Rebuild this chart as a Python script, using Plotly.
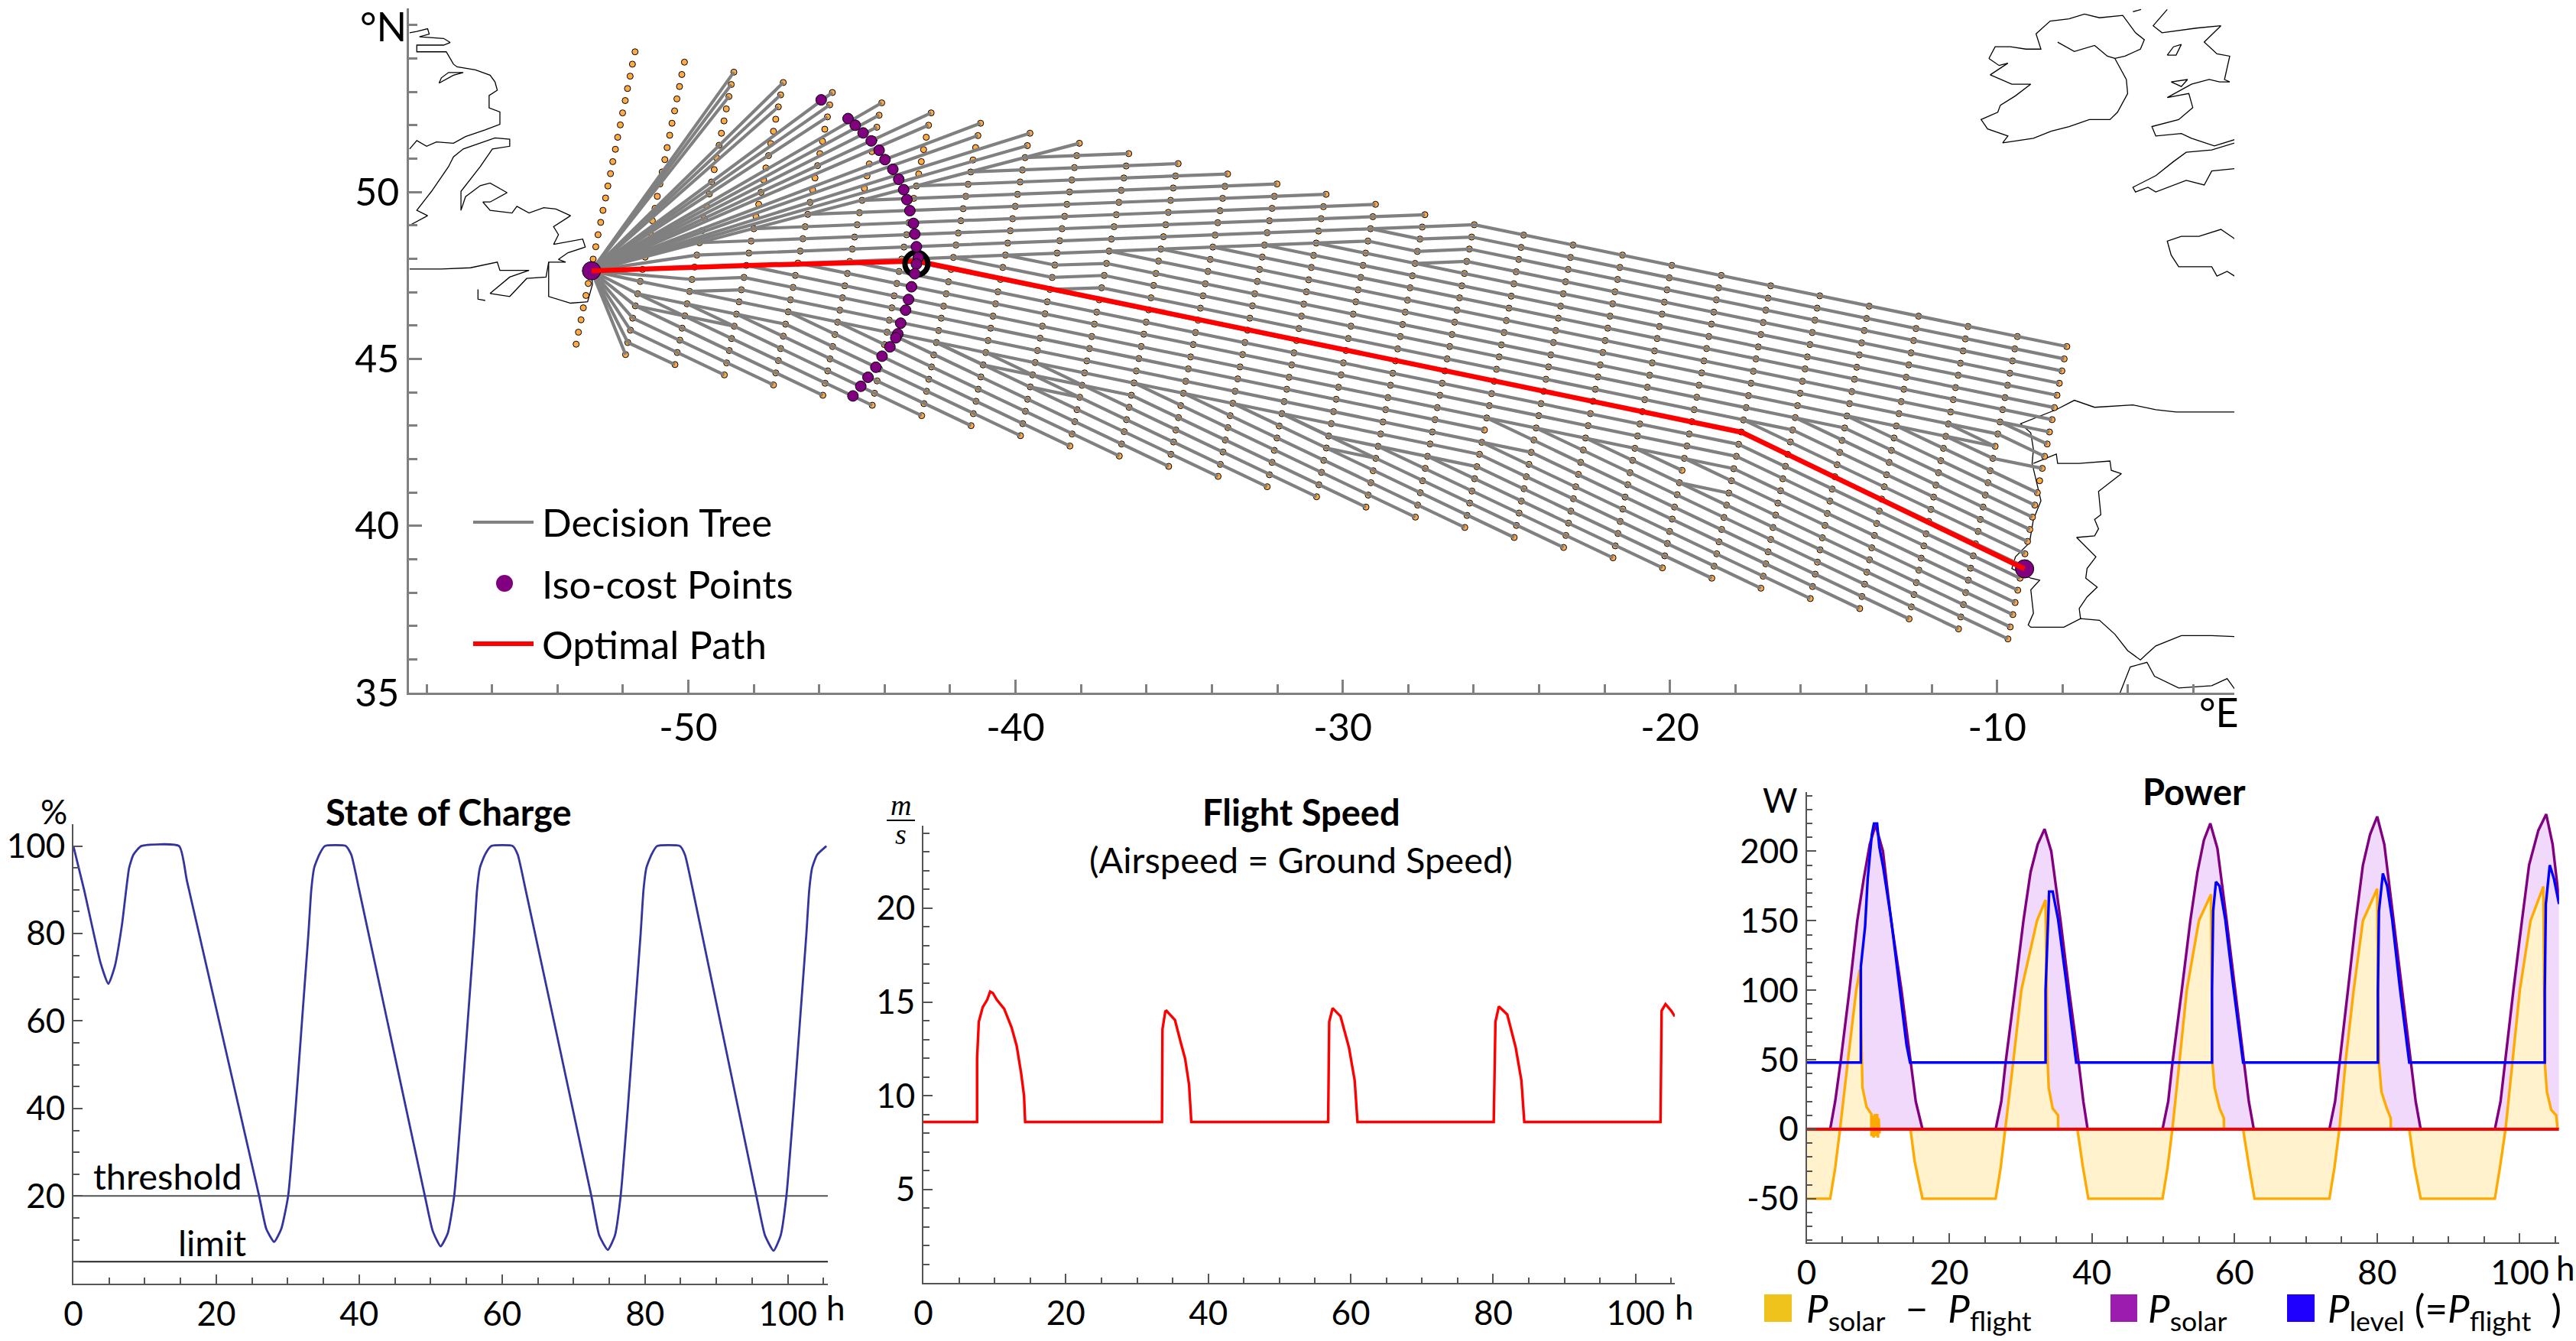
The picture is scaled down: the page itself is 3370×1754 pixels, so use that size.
import plotly.graph_objects as go

W, H = 3370, 1754

# ---- route map data (degrees) ----
origin_lon, origin_lat = -52.96, 47.64
dest_lon, dest_lat = -9.16, 38.71
ring_lon, ring_lat = -43.03, 47.85

# decision stages 1..30: position of the top node of each stage
stage_lon = [-51.63, -50.12, -48.61, -47.10, -45.60, -44.09, -42.58, -41.07, -39.56, -38.05,
             -36.54, -35.03, -33.52, -32.01, -30.51, -29.00, -27.49, -25.98, -24.47, -22.96,
             -21.45, -19.94, -18.43, -16.92, -15.42, -13.91, -12.40, -10.89, -9.38, -7.87]
stage_lat = [54.20, 53.89, 53.59, 53.28, 52.98, 52.67, 52.37, 52.06, 51.76, 51.46,
             51.15, 50.85, 50.54, 50.24, 49.93, 49.63, 49.32, 49.02, 48.71, 48.41,
             48.11, 47.80, 47.50, 47.19, 46.89, 46.58, 46.28, 45.97, 45.67, 45.37]
# offset of heading rows 0..24 from the top node
row_dlon = [0, -0.08, -0.15, -0.23, -0.30, -0.38, -0.45, -0.53, -0.60, -0.68, -0.75, -0.83, -0.90,
            -0.98, -1.05, -1.13, -1.20, -1.28, -1.35, -1.43, -1.50, -1.58, -1.65, -1.73, -1.80]
row_dlat = [0, -0.37, -0.73, -1.10, -1.46, -1.83, -2.19, -2.56, -2.92, -3.29, -3.65, -4.02, -4.38,
            -4.75, -5.11, -5.48, -5.84, -6.21, -6.57, -6.94, -7.30, -7.67, -8.03, -8.40, -8.76]

# (stage, row) where each ray from the start point ends
ray_ends = [(3, 0), (3, 1), (3, 2), (4, 0), (4, 1), (4, 2), (5, 0), (5, 1), (5, 2),
            (6, 0), (6, 1), (6, 2), (7, 0), (7, 1), (8, 0), (8, 1), (9, 0), (9, 1), (10, 0),
            (3, 15), (4, 15), (3, 17), (2, 18), (2, 19), (2, 20), (2, 21), (2, 22), (2, 23), (2, 24)]
# the other tree branches as (stage, row) corners
branches = [
    # rising part of the fan
    [(3, 14), (17, 0)], [(4, 12), (16, 0)], [(5, 10), (15, 0)], [(6, 8), (14, 0)],
    [(7, 6), (13, 0)], [(8, 4), (12, 0)], [(9, 2), (11, 0)],
    [(3, 15), (16, 2), (18, 0), (30, 0)], [(16, 2), (17, 2), (18, 1), (30, 1)],
    [(4, 15), (16, 3), (17, 3), (18, 2), (30, 2)], [(17, 4), (18, 3), (30, 3)],
    # level rows
    [(15, 4), (30, 4)], [(14, 5), (30, 5)], [(13, 6), (30, 6)], [(12, 7), (30, 7)], [(11, 8), (29, 8)],
    [(9, 10), (10, 10), (11, 9), (29, 9)], [(8, 11), (10, 11), (11, 10), (26, 10)],
    [(7, 12), (10, 12), (11, 11), (25, 11)], [(7, 12), (24, 12)],
    [(6, 13), (24, 13)], [(5, 14), (24, 14)], [(4, 15), (24, 15)],
    [(3, 17), (4, 16), (19, 16)], [(2, 18), (3, 18), (4, 17), (20, 17)], [(3, 18), (19, 18)],
    [(2, 19), (3, 19), (5, 19)], [(2, 20), (3, 20), (4, 20)], [(8, 18), (9, 19), (12, 19)],
    [(10, 20), (11, 20)], [(15, 18), (16, 19), (19, 19)], [(16, 20), (17, 20)],
    # descending part, ends on the bottom row or the last stage
    [(2, 20), (6, 24)], [(2, 21), (5, 24)], [(2, 22), (4, 24)], [(2, 23), (3, 24)], [(2, 19), (7, 24)],
    [(3, 19), (8, 24)], [(4, 19), (9, 24)], [(5, 19), (10, 24)], [(5, 18), (11, 24)], [(6, 18), (12, 24)],
    [(7, 18), (13, 24)], [(8, 18), (14, 24)], [(9, 18), (15, 24)], [(10, 18), (16, 24)], [(12, 19), (17, 24)],
    [(12, 18), (18, 24)], [(13, 18), (19, 24)], [(14, 18), (20, 24)], [(15, 18), (21, 24)], [(17, 19), (22, 24)],
    [(18, 19), (23, 24)], [(19, 19), (24, 24)], [(19, 18), (25, 24)], [(19, 17), (26, 24)], [(20, 17), (27, 24)],
    [(19, 15), (28, 24)], [(20, 15), (29, 24)], [(21, 15), (30, 24)], [(22, 15), (23, 16)],
    [(23, 17), (24, 17), (30, 23)], [(23, 15), (30, 22)], [(24, 15), (30, 21)], [(24, 14), (30, 20)],
    [(24, 13), (30, 19)], [(24, 12), (30, 18)], [(24, 11), (30, 17)], [(25, 11), (30, 16)], [(25, 10), (30, 15)],
    [(26, 10), (30, 14)], [(26, 9), (30, 13)], [(27, 9), (30, 12)], [(28, 9), (29, 10), (30, 10)],
    [(28, 8), (29, 9)], [(29, 8), (30, 9)], [(29, 7), (30, 8)],
]

optimal_lon = [-52.96, -48.22, -43.0, -17.8, -9.16]
optimal_lat = [47.64, 47.80, 47.93, 42.80, 38.71]

iso_lon = [-45.94, -45.12, -44.90, -44.66, -44.41, -44.17, -43.99, -43.75, -43.57, -43.42, -43.32, -43.23, -43.12,
           -43.08, -43.03, -42.97, -43.03, -43.08, -43.18, -43.27, -43.36, -43.51, -43.60, -43.66, -43.84, -44.08,
           -44.27, -44.51, -44.73, -44.97]
iso_lat = [52.76, 52.20, 52.00, 51.77, 51.53, 51.25, 50.97, 50.68, 50.38, 50.07, 49.77, 49.44, 49.06,
           48.74, 48.36, 48.04, 47.84, 47.55, 47.16, 46.78, 46.46, 46.07, 45.75, 45.63, 45.36, 45.08,
           44.75, 44.45, 44.18, 43.89]

# coastlines, each piece is a flat lon, lat list
coasts = [
    [-58.52, 54.77, -58.30, 54.81, -57.97, 54.89, -57.92, 54.73, -58.22, 54.65, -57.48, 54.60, -57.28, 54.48,
     -57.48, 54.40, -58.30, 54.40, -58.30, 54.20, -57.40, 54.20, -57.18, 53.83, -57.07, 53.75, -56.51, 53.66,
     -56.06, 53.50, -55.91, 53.30, -55.84, 53.05, -56.09, 52.89, -56.09, 52.52, -55.76, 52.40, -55.76, 52.03,
     -56.21, 51.86, -56.81, 51.66, -57.18, 51.46, -57.70, 51.50, -58.00, 51.37, -58.30, 51.54, -58.52, 51.29],
    [-57.62, 53.26, -57.18, 53.50, -56.88, 53.58, -57.33, 53.58, -57.55, 53.42, -57.62, 53.26],
    [-58.52, 49.00, -57.97, 49.29, -58.30, 49.45, -57.85, 50.02, -57.33, 50.76, -57.18, 51.05, -56.88, 51.29,
     -55.91, 51.62, -55.46, 51.58, -55.46, 51.37, -55.99, 51.29, -56.36, 50.76, -56.95, 50.02, -56.95, 49.45,
     -56.81, 49.86, -56.36, 50.19, -56.06, 50.27, -55.54, 49.98, -56.06, 49.70, -56.28, 49.70, -56.06, 49.45,
     -55.39, 49.37, -55.24, 49.57, -54.87, 49.37, -54.42, 49.53, -54.05, 49.49, -53.60, 49.29, -54.12, 48.96,
     -53.97, 48.72, -54.12, 48.43, -53.23, 48.59, -53.15, 48.35, -53.68, 48.18, -53.97, 47.98, -53.75, 47.90,
     -54.27, 47.90, -54.27, 46.87, -53.60, 46.67, -53.08, 46.71, -52.93, 47.24, -53.00, 47.90],
    [-58.52, 47.69, -57.55, 47.69, -56.66, 47.73, -55.84, 47.90, -55.76, 47.65, -54.87, 47.65, -55.46, 47.45,
     -56.06, 46.96, -55.46, 46.87, -54.94, 47.41, -54.35, 47.45, -54.27, 47.90],
    [-56.43, 47.08, -56.43, 46.79, -56.21, 46.75],
    [-10.25, 54.00, -10.06, 54.35, -9.59, 54.35, -9.12, 54.28, -8.66, 54.28, -8.81, 54.74, -8.38, 55.12,
     -7.80, 55.19, -7.33, 55.33, -6.87, 55.22, -6.16, 55.29, -5.77, 54.77, -5.50, 54.56, -5.62, 54.28,
     -6.09, 54.07, -6.40, 54.00, -6.05, 53.37, -6.01, 52.95, -6.32, 52.39, -6.55, 52.17, -7.18, 52.17,
     -7.80, 51.96, -8.35, 51.82, -8.89, 51.61, -9.36, 51.54, -9.83, 51.47, -9.67, 51.68, -10.29, 51.89,
     -10.49, 52.17, -9.98, 52.39, -9.90, 52.60, -9.44, 52.88, -8.97, 53.23, -9.55, 53.23, -10.21, 53.51,
     -9.67, 53.86, -9.94, 53.79, -10.25, 54.00],
    [-8.15, 54.49, -7.64, 54.21, -7.02, 54.39, -6.63, 54.07, -6.40, 54.00],
    [-5.85, 55.40, -5.60, 55.47],
    [-4.80, 55.47, -5.23, 54.98, -4.96, 54.77, -4.45, 54.84, -3.91, 54.91, -3.16, 54.98, -3.67, 54.49, -3.28, 54.14,
     -2.89, 54.07, -3.05, 53.37, -2.89, 53.30, -3.20, 53.30, -3.52, 53.37, -4.06, 53.23, -4.80, 52.83, -4.14, 52.95,
     -4.02, 52.53, -4.45, 52.17, -5.27, 51.96, -5.15, 51.68, -4.37, 51.75, -4.06, 51.61, -3.36, 51.38, -2.74, 51.57],
    [-4.80, 54.10, -4.61, 54.35, -4.37, 54.42, -4.53, 54.10, -4.80, 54.10],
    [-4.68, 53.30, -4.18, 53.37, -4.37, 53.16, -4.68, 53.30],
    [-2.74, 50.70, -3.44, 50.63, -3.67, 50.21, -4.22, 50.35, -5.15, 50.00, -5.39, 50.14, -5.77, 50.00, -5.85, 50.14,
     -5.15, 50.49, -4.61, 50.91, -4.22, 51.19, -3.44, 51.26, -2.74, 51.47],
    [-2.74, 48.60, -3.16, 48.88, -3.83, 48.67, -4.37, 48.67, -4.80, 48.53, -4.68, 48.11, -4.45, 47.76, -3.98, 47.76,
     -3.44, 47.76, -3.28, 47.48, -2.97, 47.62, -2.74, 47.48],
    [-2.74, 43.41, -3.44, 43.41, -4.53, 43.41, -5.15, 43.48, -5.85, 43.62, -7.02, 43.55, -7.64, 43.76, -8.19, 43.48,
     -9.28, 43.06, -8.97, 42.78, -8.89, 42.29, -8.93, 41.87, -8.66, 40.75, -8.89, 40.19, -9.01, 39.49, -9.44, 39.07,
     -9.55, 38.72, -8.97, 38.43, -8.70, 38.37, -8.97, 38.08, -8.89, 37.38, -9.05, 37.03, -8.97, 36.96, -7.96, 36.96,
     -7.45, 37.22, -6.87, 37.17, -6.40, 36.75, -6.01, 36.26, -5.62, 35.98, -5.39, 36.19, -5.15, 36.40, -4.37, 36.71,
     -3.44, 36.71, -2.74, 36.68],
    [-8.89, 41.87, -8.19, 42.15, -8.15, 41.87, -7.49, 41.87, -6.55, 41.94, -6.51, 41.66, -6.20, 41.56, -6.71, 41.17,
     -6.90, 41.03, -6.83, 40.33, -7.02, 40.19, -6.90, 39.91, -7.02, 39.70, -7.57, 39.65, -7.33, 39.42, -6.98, 39.07,
     -7.25, 38.72, -7.29, 38.43, -6.94, 38.16, -7.25, 37.87, -7.49, 37.52, -7.45, 37.22],
    [-6.24, 35.00, -5.93, 35.77, -5.42, 35.91, -5.19, 35.49, -4.45, 35.14, -3.44, 35.21, -2.97, 35.42, -2.74, 35.11],
]

# ---- state of charge ----
soc_h = [0, 1.5, 3.8, 4.9, 5.8, 6.8, 7.8, 8.4, 9.5, 14.8, 15.9, 26, 27, 28.1, 29.1, 30.06, 31.1, 32, 32.9, 33.3, 33.7, 34.4, 35.2,
         38.15, 38.9, 40, 49.2, 50.3, 51.4, 52.4, 53.3, 54.3, 55.2, 56.1, 56.5, 56.9, 57.6, 58.5,
         61.5, 62.2, 63.3, 72.5, 73.6, 74.8, 75.8, 76.6, 77.6, 78.5, 79.4, 79.8, 80.2, 80.9, 81.7,
         84.9, 85.6, 86.7, 95.6, 96.8, 98, 99, 99.8, 100.8, 101.7, 102.6, 103, 103.4, 104.1, 105.4]
soc_pct = [100, 90, 73.3, 68.5, 72.5, 82, 95, 98, 100, 100, 92, 20, 12.5, 9.5, 12.5, 20, 40, 60, 80, 90, 95, 98, 100,
           100, 98, 90, 20, 12, 8.5, 11.5, 20, 40, 60, 80, 90, 95, 98, 100,
           100, 98, 90, 20, 11, 7.7, 11, 20, 40, 60, 80, 90, 95, 98, 100,
           100, 98, 90, 20, 11, 7.5, 11, 20, 40, 60, 80, 90, 95, 98, 100]
threshold_pct = 20
limit_pct = 5

# ---- flight speed ----
speed_h = [0, 7.54, 7.54, 7.78, 8.33, 8.97, 9.37, 9.76, 10.3, 11.35, 12.38, 13.1, 13.73, 14.13, 14.29,
           33.5, 33.57, 33.97, 34.13, 35.32, 36.19, 36.75, 37.3, 37.62,
           56.83, 56.98, 57.46, 58.57, 59.76, 60.56, 60.95,
           80.08, 80.32, 80.8, 81.98, 83.17, 83.97, 84.37,
           103.5, 103.65, 104.2, 105, 105.5]
speed_ms = [8.6, 8.6, 12.0, 13.94, 14.72, 15.12, 15.55, 15.47, 15.12, 14.63, 13.64, 12.66, 11.19, 10.0, 8.6,
            8.6, 13.55, 14.5, 14.53, 14.04, 12.76, 11.97, 10.6, 8.6,
            8.6, 13.94, 14.67, 14.23, 12.56, 10.8, 8.6,
            8.6, 13.94, 14.76, 14.33, 12.56, 10.8, 8.6,
            8.6, 14.53, 14.88, 14.53, 14.23]

# ---- power ----
solar_h = [0, 3.3, 4, 4.75, 6, 7.1, 8, 8.85, 9.66, 10.7, 11.85, 13.3, 14.55, 15.3, 16.24,
           26.5, 27.3, 27.9, 29.2, 30.4, 31.4, 32.4, 33.36, 34.3, 35.6, 36.8, 38.1, 38.8, 39.4,
           49.9, 50.7, 51.3, 52.6, 53.8, 54.8, 55.7, 56.6, 57.6, 58.9, 60.1, 61.3, 62, 62.7,
           73.3, 74.1, 74.7, 75.9, 77, 78, 79, 80, 81, 82.3, 83.5, 84.7, 85.4, 86.1,
           96.5, 97.3, 97.9, 99.1, 100.3, 101.3, 102.6, 103.7, 104.6, 105.5]
solar_w = [0, 0, 20, 48, 100, 150, 180, 205, 219, 200, 150, 100, 50, 20, 0,
           0, 20, 48, 100, 150, 185, 205, 216, 200, 150, 100, 50, 20, 0,
           0, 20, 48, 100, 150, 185, 208, 220, 202, 150, 100, 50, 20, 0,
           0, 20, 48, 100, 150, 190, 212, 225, 205, 150, 100, 50, 20, 0,
           0, 20, 48, 100, 150, 190, 215, 226.7, 205, 165]
net_h = [0, 3.3, 4, 4.68, 5.8, 6.95, 7.46, 7.75, 7.83, 8.4, 9.07, 9.1, 9.3, 9.4, 9.6, 9.7, 9.9, 10, 10.1, 10.2, 10.3,
         14.56, 15.14, 16.24, 26.5, 27.2, 27.87, 29, 30.1, 32.3, 33.5, 33.8, 33.94, 34.5, 35.26, 35.27,
         37.97, 38.7, 39.5, 49.9, 50.6, 51.28, 52.3, 53.3, 55, 56.7, 56.9, 57.2, 57.9, 58.5, 58.51,
         61.2, 62, 62.8, 73.3, 74, 74.7, 75.6, 76.7, 78, 80, 80.25, 80.6, 81.35, 81.9, 81.91,
         84.5, 85.2, 86.1, 96.5, 97.2, 98, 99, 100, 101.5, 103.3, 103.5, 103.8, 104.4, 105.1, 105.3]
net_w = [-50, -50, -28, 0, 50, 100, 115, 50, 30, 16, 11, -5, 10, -6, 11, -5, 11, -6, 8, -3, 0,
         0, -23, -50, -50, -28, 0, 50, 100, 150, 165, 48, 30, 15, 10, 0,
         0, -26, -50, -50, -28, 0, 50, 100, 150, 169, 48, 30, 15, 8, 0,
         0, -26, -50, -50, -28, 0, 50, 100, 150, 173, 48, 27, 15, 8, 0,
         0, -26, -50, -50, -28, 0, 50, 100, 150, 174.6, 48, 27, 14, 10, 0]
level_h = [0, 7.6, 7.6, 8.2, 8.56, 9.14, 9.44, 9.88, 10.2, 10.75, 11.85, 12.95, 14, 14.5,
           33.5, 33.5, 33.8, 34, 34.5, 35.26, 36.4, 37.8,
           56.84, 56.84, 57, 57.4, 57.9, 58.7, 59.8, 61.2,
           80.1, 80.1, 80.25, 80.8, 81.4, 82.1, 83.2, 84.5,
           103.5, 103.5, 103.65, 104.2, 104.8, 105.5]
level_w = [48, 48, 117, 146, 180, 212, 220, 220, 203, 188, 151, 106, 61, 48,
           48, 100, 138, 171, 171, 151, 106, 48,
           48, 100, 157, 178, 175, 151, 104, 48,
           48, 100, 157, 184, 175, 151, 101, 48,
           48, 100, 162, 190, 180, 162]
zero_h = [0, 105.5]
zero_w = [0, 0]

ORANGE = "#FFAA00"
PURPLE = "#800080"
GREY = "#808080"
FONT = "Lato"


def node_xy(stage, row):
    return stage_lon[stage - 1] + row_dlon[row], stage_lat[stage - 1] + row_dlat[row]


# page pixel -> paper coordinates, only for the layout
def px(x):
    return x / W


def py(y):
    return 1 - y / H


fig = go.Figure()

# map: coast first, then nodes, then the tree on top of them
coast_x, coast_y = [], []
for piece in coasts:
    coast_x += piece[0::2] + [None]
    coast_y += piece[1::2] + [None]
fig.add_trace(go.Scatter(x=coast_x, y=coast_y, mode="lines", line=dict(color="black", width=1.3),
                         xaxis="x", yaxis="y"))

node_x, node_y = [], []
for stage in range(1, 31):
    for row in range(25):
        a, b = node_xy(stage, row)
        node_x.append(a)
        node_y.append(b)
fig.add_trace(go.Scatter(x=node_x, y=node_y, mode="markers",
                         marker=dict(color="#FFAA44", size=8, line=dict(color="black", width=1)),
                         xaxis="x", yaxis="y"))

tree_x, tree_y = [], []
for end in ray_ends:
    a, b = node_xy(*end)
    tree_x += [origin_lon, a, None]
    tree_y += [origin_lat, b, None]
for branch in branches:
    for corner in branch:
        a, b = node_xy(*corner)
        tree_x.append(a)
        tree_y.append(b)
    tree_x.append(None)
    tree_y.append(None)
fig.add_trace(go.Scatter(x=tree_x, y=tree_y, mode="lines", line=dict(color=GREY, width=4.2),
                         xaxis="x", yaxis="y"))

fig.add_trace(go.Scatter(x=[origin_lon, dest_lon], y=[origin_lat, dest_lat], mode="markers",
                         marker=dict(color=PURPLE, size=24, line=dict(color="black", width=1)),
                         xaxis="x", yaxis="y"))
fig.add_trace(go.Scatter(x=optimal_lon, y=optimal_lat, mode="lines", line=dict(color="#FF0000", width=6.5),
                         xaxis="x", yaxis="y"))
fig.add_trace(go.Scatter(x=[ring_lon], y=[ring_lat], mode="markers",
                         marker=dict(color="rgba(0,0,0,0)", size=30, line=dict(color="black", width=7)),
                         xaxis="x", yaxis="y"))
fig.add_trace(go.Scatter(x=iso_lon, y=iso_lat, mode="markers",
                         marker=dict(color=PURPLE, size=14, line=dict(color="black", width=1)),
                         xaxis="x", yaxis="y"))

# state of charge
fig.add_trace(go.Scatter(x=[0, 105.6], y=[threshold_pct, threshold_pct], mode="lines",
                         line=dict(color="#555555", width=2), xaxis="x2", yaxis="y2"))
fig.add_trace(go.Scatter(x=[0, 105.6], y=[limit_pct, limit_pct], mode="lines",
                         line=dict(color="#222222", width=2), xaxis="x2", yaxis="y2"))
fig.add_trace(go.Scatter(x=soc_h, y=soc_pct, mode="lines",
                         line=dict(color="#3434A0", width=2.8, shape="spline", smoothing=0.5),
                         xaxis="x2", yaxis="y2"))

# flight speed
fig.add_trace(go.Scatter(x=speed_h, y=speed_ms, mode="lines", line=dict(color="#FF0000", width=3.4),
                         xaxis="x3", yaxis="y3"))

# power, fills first so the lines stay visible
fig.add_trace(go.Scatter(x=solar_h, y=solar_w, mode="none", fill="tozeroy", fillcolor="#F0D9FA",
                         xaxis="x4", yaxis="y4"))
fig.add_trace(go.Scatter(x=net_h, y=net_w, mode="none", fill="tozeroy", fillcolor="#FFF2CC",
                         xaxis="x4", yaxis="y4"))
fig.add_trace(go.Scatter(x=solar_h, y=solar_w, mode="lines", line=dict(color=PURPLE, width=3.4),
                         xaxis="x4", yaxis="y4"))
fig.add_trace(go.Scatter(x=net_h, y=net_w, mode="lines", line=dict(color=ORANGE, width=3.4),
                         xaxis="x4", yaxis="y4"))
fig.add_trace(go.Scatter(x=level_h, y=level_w, mode="lines", line=dict(color="#0000FF", width=3.4),
                         xaxis="x4", yaxis="y4"))
fig.add_trace(go.Scatter(x=zero_h, y=zero_w, mode="lines", line=dict(color="#FF0000", width=4),
                         xaxis="x4", yaxis="y4"))


def axis(x0, x1, rng, vals, major, minor_step, size, color, width, anchor, labels=None):
    return dict(domain=[x0, x1], range=rng, anchor=anchor, automargin=False, showgrid=False, zeroline=False,
                showline=True, linecolor=color, linewidth=width,
                tickmode="array", tickvals=vals, ticktext=labels or [str(v) for v in vals],
                ticks="inside", ticklen=major, tickcolor=color, tickwidth=width,
                tickfont=dict(family=FONT, size=size, color="black"),
                minor=dict(dtick=minor_step, tick0=0, ticks="inside", ticklen=major * 0.65,
                           tickcolor=color, tickwidth=width, showgrid=False))


map_x = axis(px(535), px(2923), [-58.54, -2.75], [-50, -40, -30, -20, -10], 17, 2, 50, GREY, 2.5, "y")
map_y = axis(py(906), py(11), [35, 55.5], [35, 40, 45, 50], 17, 1, 50, GREY, 2.5, "x")
soc_x = axis(px(96), px(1083), [0, 105.6], [0, 20, 40, 60, 80, 100], 12, 5, 44, "#555555", 2, "y2")
soc_y = axis(py(1678.8), py(1078), [0, 105], [20, 40, 60, 80, 100], 12, 5, 44, "#555555", 2, "x2")
spd_x = axis(px(1208), px(2191), [0, 105.5], [0, 20, 40, 60, 80, 100], 12, 5, 44, "#555555", 2, "y3")
spd_y = axis(py(1678.4), py(1080), [0, 24.4], [5, 10, 15, 20], 12, 1, 44, "#555555", 2, "x3")
pow_x = axis(px(2363.5), px(3347.8), [0, 105.5], [0, 20, 40, 60, 80, 100], 12, 5, 44, "#555555", 2, "y4")
pow_y = axis(py(1625), py(1036), [-81.4, 242.6], [-50, 0, 50, 100, 150, 200], 12, 10, 44, "#555555", 2, "x4")


def text(x, y, s, size=44, anchor="center", family=FONT):
    return dict(x=px(x), y=py(y), xref="paper", yref="paper", text=s, showarrow=False,
                xanchor=anchor, yanchor="middle", font=dict(family=family, size=size, color="black"))


notes = [
    text(501, 34, "°N", 52), text(2903, 931, "°E", 52),
    text(707, 683, "Decision Tree", 51, "left"), text(707, 763, "Iso-cost Points", 51, "left"),
    text(707, 842, "Optimal Path", 51, "left"),
    text(70, 1061, "%", 44), text(587, 1062, "<b>State of Charge</b>", 47),
    text(219, 1538, "threshold", 47), text(277, 1625, "limit", 47), text(1093, 1710, "h", 44),
    text(1702, 1062, "<b>Flight Speed</b>", 47), text(1702, 1124, "(Airspeed = Ground Speed)", 47),
    text(1178, 1053, "<i>m</i>", 38, family="Liberation Serif"), text(1178, 1091, "<i>s</i>", 38, family="Liberation Serif"),
    text(2203, 1709, "h", 44),
    text(2329, 1046, "W", 44), text(2870, 1035, "<b>Power</b>", 47), text(3356, 1658, "h", 44),
    text(2361, 1714, "<i>P</i><sub>solar</sub>  −  <i>P</i><sub>flight</sub>", 51, "left"),
    text(2808, 1714, "<i>P</i><sub>solar</sub>", 51, "left"),
    text(3043, 1714, "<i>P</i><sub>level</sub> (=<i>P</i><sub>flight</sub>  )", 51, "left"),
]


def rect(x0, y0, x1, y1, color):
    return dict(type="rect", xref="paper", yref="paper", x0=px(x0), x1=px(x1), y0=py(y1), y1=py(y0),
                fillcolor=color, line=dict(width=0))


def hline(x0, x1, y, color, width):
    return dict(type="line", xref="paper", yref="paper", x0=px(x0), x1=px(x1), y0=py(y), y1=py(y),
                line=dict(color=color, width=width))


shapes = [
    hline(619, 698, 683, GREY, 4), hline(619, 698, 842, "#FF0000", 6), hline(1160, 1197, 1073, "black", 2),
    dict(type="circle", xref="paper", yref="paper", x0=px(649), x1=px(671), y0=py(774), y1=py(752),
         fillcolor=PURPLE, line=dict(width=0)),
    rect(2308, 1693, 2344, 1729, "#F0C31C"), rect(2761, 1693, 2796, 1729, "#9C1CB0"), rect(2992, 1693, 3028, 1729, "#1F00FF"),
]

fig.update_layout(
    width=W, height=H, margin=dict(l=0, r=0, t=0, b=0), showlegend=False,
    paper_bgcolor="white", plot_bgcolor="white", font=dict(family=FONT),
    xaxis=map_x, yaxis=map_y, xaxis2=soc_x, yaxis2=soc_y,
    xaxis3=spd_x, yaxis3=spd_y, xaxis4=pow_x, yaxis4=pow_y,
    annotations=notes, shapes=shapes,
)

fig.write_html("out.html", config={"displayModeBar": False}, post_script="document.body.style.margin='0';")
